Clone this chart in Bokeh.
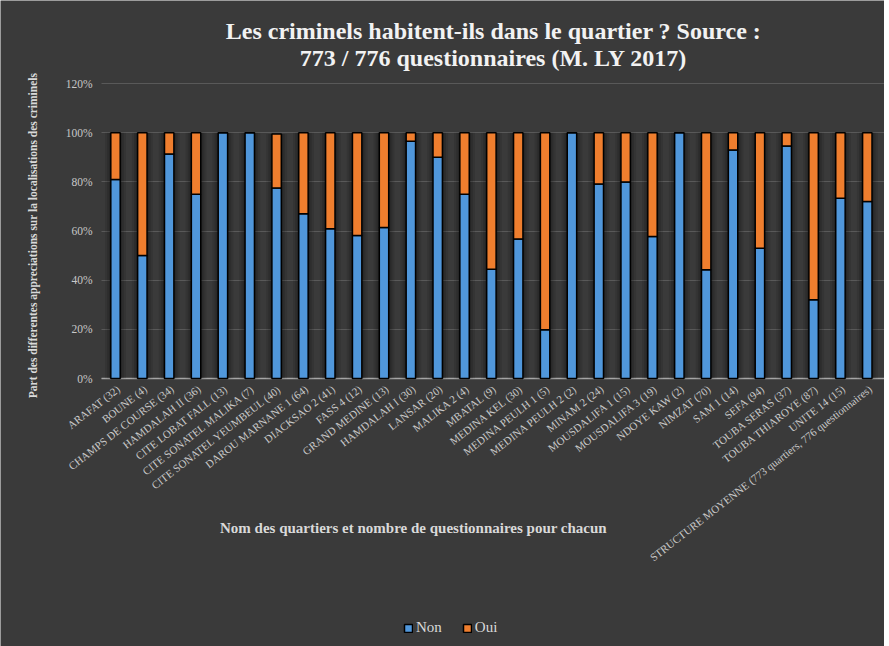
import math
from bokeh.plotting import figure
from bokeh.models import (ColumnDataSource, Range1d, FixedTicker, Grid, Label,
                          Legend, LegendItem, BoxAnnotation)
from bokeh.core.properties import value
from bokeh.embed import file_html
from bokeh.resources import INLINE

# ---- data ----
quartiers = [
    "ARAFAT (32)", "BOUNE (4)", "CHAMPS DE COURSE (34)", "HAMDALAH II (36)",
    "CITE LOBAT FALL (13)", "CITE SONATEL MALIKA (7)", "CITE SONATEL YEUMBEUL (40)",
    "DAROU MARNANE 1 (64)", "DIACKSAO 2 (41)", "FASS 4 (12)", "GRAND MEDINE (13)",
    "HAMDALAH I (30)", "LANSAR (20)", "MALIKA 2 (4)", "MBATAL (9)", "MEDINA KEL (30)",
    "MEDINA PEULH 1 (5)", "MEDINA PEULH 2 (2)", "MINAM 2 (24)", "MOUSDALIFA 1 (15)",
    "MOUSDALIFA 3 (19)", "NDOYE KAW (2)", "NIMZAT (70)", "SAM 1 (14)", "SEFA (94)",
    "TOUBA SERAS (37)", "TOUBA THIAROYE (87)", "UNITE 14 (15)",
    "STRUCTURE MOYENNE (773 quartiers, 776 questionnaires)",
]
non = [81.0, 50.0, 91.3, 74.9, 100.0, 100.0, 77.5, 67.0, 60.9, 58.2, 61.4,
       96.5, 90.0, 74.9, 44.4, 56.7, 19.8, 100.0, 79.1, 79.9, 57.8, 100.0,
       44.2, 92.9, 53.0, 94.6, 32.0, 73.3, 72.0]
oui = [19.0, 50.0, 8.7, 25.1, 0.0, 0.0, 22.0, 33.0, 39.1, 41.8, 38.6,
       3.5, 10.0, 25.1, 55.6, 43.3, 80.2, 0.0, 20.9, 20.1, 42.2, 0.0,
       55.8, 7.1, 47.0, 5.4, 68.0, 26.7, 28.0]
y_ticks = [0, 20, 40, 60, 80, 100, 120]
y_tick_labels = ["0%", "20%", "40%", "60%", "80%", "100%", "120%"]

title_line1 = "Les criminels habitent-ils dans le quartier ? Source :"
title_line2 = "773 / 776 questionnaires (M. LY 2017)"
y_title = "Part des differentes appreciations sur la localisations des criminels"
x_title = "Nom des quartiers et nombre de questionnaires pour chacun"

pos = list(range(len(quartiers)))
total = [a + b for a, b in zip(non, oui)]
src = ColumnDataSource(dict(x=pos, q=quartiers, non=non, oui=oui, total=total))
tick_src = ColumnDataSource(dict(y=y_ticks, t=y_tick_labels))

BG = "#3a3a3a"
TXT = "#d9d9d9"
SERIF = "Liberation Serif"

# layout: the plotting frame covers the whole canvas so that the slanted
# category labels, titles and legend are never clipped.
W, H = 884, 646
CAT_PX, FIRST_PX = 26.85, 115.0         # px per category, centre of first one
ZERO_PX, PX_PER_PCT = 378.0, 2.4583     # canvas y of 0 %, px per percent
x_lo = -FIRST_PX / CAT_PX
x_hi = (W - FIRST_PX) / CAT_PX
y_lo = -(H - ZERO_PX) / PX_PER_PCT
y_hi = ZERO_PX / PX_PER_PCT


def px_x(px):   # canvas px -> data x (for text placement)
    return (px - FIRST_PX) / CAT_PX


def px_y(py):   # canvas px -> data y (for text placement)
    return (ZERO_PX - py) / PX_PER_PCT


p = figure(x_range=Range1d(x_lo, x_hi), y_range=Range1d(y_lo, y_hi),
           x_axis_location=None, y_axis_location=None,
           width=W, height=H, output_backend="svg", toolbar_location=None,
           min_border_left=0, min_border_right=0, min_border_top=0,
           min_border_bottom=0)
p.title.visible = False
p.center = [r for r in p.center if not isinstance(r, Grid)]

p.background_fill_color = BG
p.border_fill_color = BG
p.outline_line_color = None

# horizontal grid lines, limited to the plotting band
x_band = (px_x(101), x_hi)
grid = Grid(dimension=1, ticker=FixedTicker(ticks=y_ticks),
            grid_line_color="#595959", grid_line_width=1)
axis0 = Grid(dimension=1, ticker=FixedTicker(ticks=[y_ticks[0]]),
             grid_line_color="#a6a6a6", grid_line_width=1.5)
has_cb = "cross_bounds" in grid.properties()
if has_cb:
    grid.cross_bounds = x_band
    axis0.cross_bounds = x_band
p.add_layout(grid)
if not has_cb:
    p.add_layout(BoxAnnotation(right=x_band[0], fill_color=BG, fill_alpha=1,
                               line_color=None, level="underlay"))

# shadows behind bars
for w, a in [(0.78, 0.10), (0.62, 0.12), (0.48, 0.16)]:
    p.vbar(x="x", top="total", bottom=0, width=w, source=src,
           fill_color="black", fill_alpha=a, line_color=None)

rs = p.vbar_stack(["non", "oui"], x="x", width=0.35, source=src,
                  fill_color=["#5097db", "#ef7e2e"], line_color="black",
                  line_width=1.5)
p.add_layout(axis0)

# category labels (slanted)
p.text(x="x", y=0, text="q", source=src, angle=math.radians(38),
       x_offset=3, y_offset=9, text_align="right", text_baseline="middle",
       text_font=value(SERIF), text_font_size="11px", text_color="#c8c8c8")

# y tick labels
p.text(x=-0.5, y="y", text="t", source=tick_src, x_offset=-9.5,
       text_align="right", text_baseline="middle",
       text_font=value(SERIF), text_font_size="11.5px", text_color="#c8c8c8")

# chart title (two centred lines)
for line, py in [(title_line1, 30), (title_line2, 57)]:
    p.add_layout(Label(x=px_x(493), y=px_y(py), text=line,
                       text_font=SERIF, text_font_size="24px", text_font_style="bold",
                       text_color="#f2f2f2", text_align="center",
                       text_baseline="middle"))

# y axis title
p.add_layout(Label(x=px_x(32), y=px_y(235), angle=math.pi / 2, text=y_title,
                   text_font=SERIF, text_font_size="11.5px", text_font_style="bold",
                   text_color=TXT, text_align="center", text_baseline="middle"))

# x axis title
p.add_layout(Label(x=px_x(413), y=px_y(527), text=x_title,
                   text_font=SERIF, text_font_size="15px", text_font_style="bold",
                   text_color=TXT, text_align="center", text_baseline="middle"))

legend = Legend(items=[LegendItem(label="Non", renderers=[rs[0]]),
                       LegendItem(label="Oui", renderers=[rs[1]])],
                orientation="horizontal", location=(403, 10),
                background_fill_alpha=0, border_line_color=None,
                label_text_font=SERIF, label_text_font_size="15px",
                label_text_color=TXT, glyph_width=10, glyph_height=10,
                spacing=20, label_standoff=3, padding=2, margin=0)
p.add_layout(legend, "center")

open("out.html", "w").write(file_html(p, INLINE))
